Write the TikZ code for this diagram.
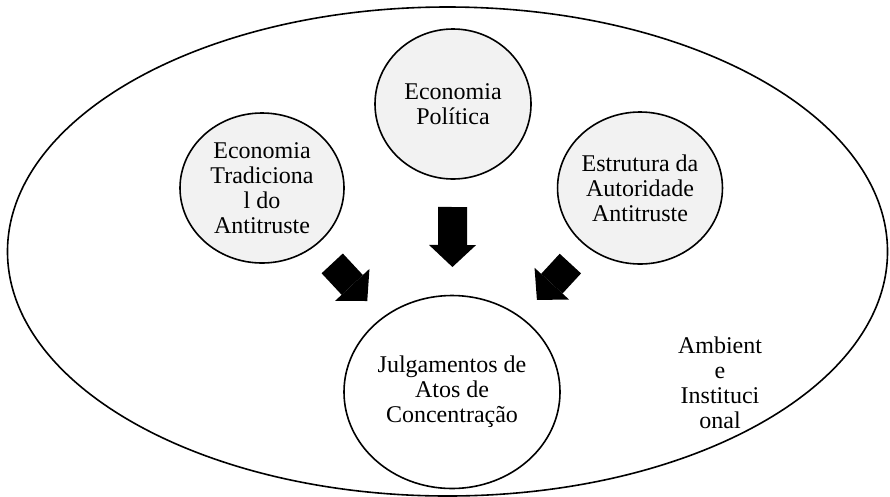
\documentclass[tikz,border=0pt]{standalone}
\usepackage{fontspec}
\setmainfont{Liberation Serif}
\usetikzlibrary{shapes.geometric,arrows.meta}

\begin{document}
\begin{tikzpicture}[x=1pt, y=-1pt,
		txt/.style={align=center, font=\fontsize{24pt}{25pt}\selectfont},
		bubble/.style={txt, ellipse, draw, line width=1.6pt, fill=gray!10, inner sep=0pt, outer sep=0pt},
		bigarrow/.style={line width=29pt, -{Triangle[width=47pt, length=22pt, line width=0pt]}}]
		\useasboundingbox (0,0) rectangle (890,496);
		
		% Ambiente institucional
		\node[ellipse, draw, line width=1.6pt, minimum width=880pt, minimum height=489pt, inner sep=0pt] (amb) at (447.5,251.5) {};
		\node[txt] (ambtxt) at (720,383) {Ambient\\e\\Instituci\\onal};
		
		% Influences
		\node[bubble, minimum width=164pt, minimum height=150pt] (trad) at (262,188) {Economia\\Tradiciona\\l do\\Antitruste};
		\node[bubble, minimum width=156pt, minimum height=150pt] (polit) at (453,104) {Economia\\Política};
		\node[bubble, minimum width=164pt, minimum height=152pt] (estr) at (640,188) {Estrutura da\\Autoridade\\Antitruste};
		
		% Julgamentos
		\node[bubble, fill=white, minimum width=216pt, minimum height=193pt] (julg) at (452,392) {Julgamentos de\\Atos de\\Concentração};
		
		% Block arrows
		\draw[bigarrow, shorten <=25pt, shorten >=23pt] (trad) -- (julg);
		\draw[bigarrow, shorten <=28pt, shorten >=28.5pt] (polit) -- (julg);
		\draw[bigarrow, shorten <=24pt, shorten >=24pt] (estr) -- (julg);
		
\end{tikzpicture}
\end{document}
